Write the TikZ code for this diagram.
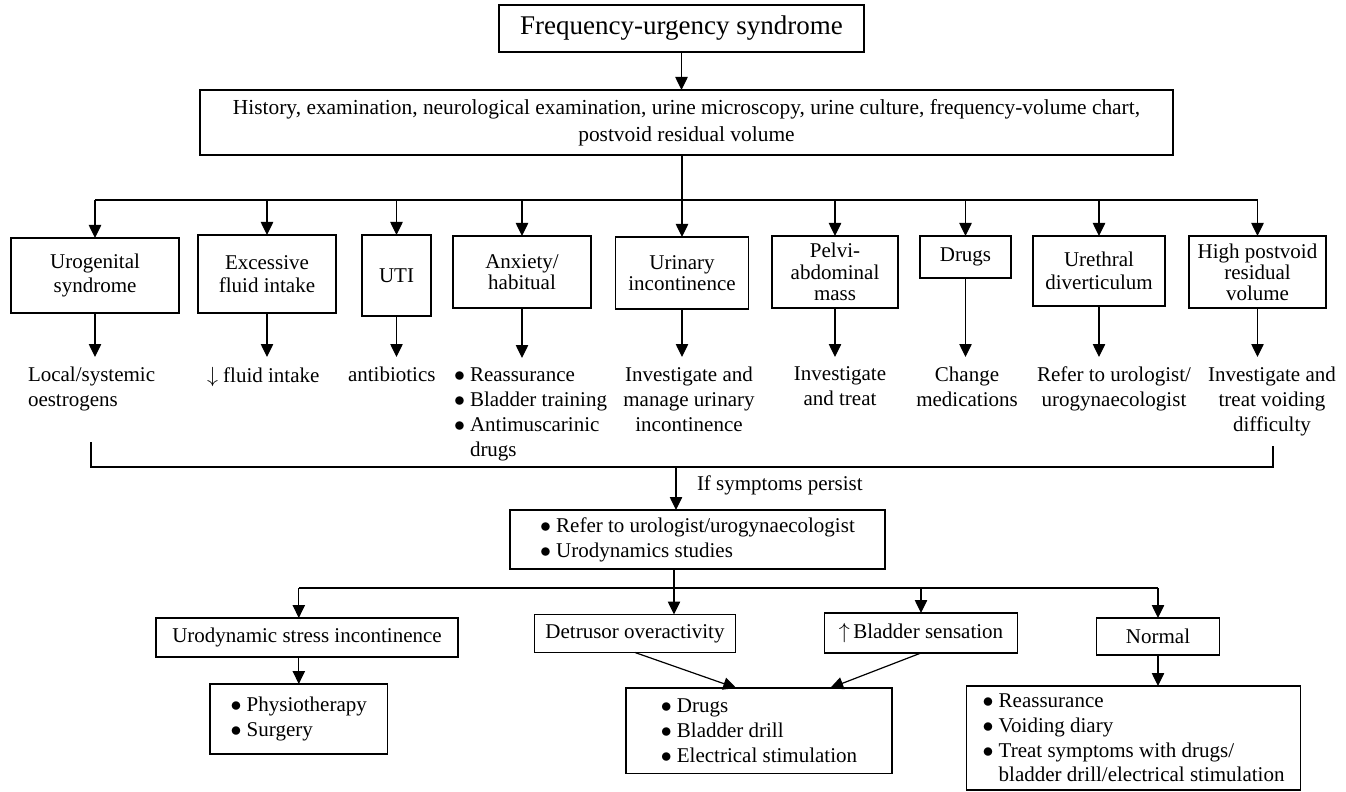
\documentclass[tikz,border=0pt]{standalone}
\usepackage{amsmath}
\usepackage{tikz}
\usepackage{fontspec}
\setmainfont{Liberation Serif}
\usetikzlibrary{arrows.meta}

\newcommand{\itm}{\makebox[8pt][l]{$\bullet$}}

\begin{document}
\begin{tikzpicture}[x=0.5pt,y=0.5pt,yscale=-1,xscale=1,
  every node/.style={inner sep=0pt,outer sep=0pt,font=\fontsize{10.5}{12.4}\selectfont},
  box/.style={draw,line width=0.6pt,align=center},
  tight/.style={font=\fontsize{10.5}{10.8}\selectfont},
  ln/.style={line width=0.6pt},
  arr/.style={line width=0.6pt,-{Triangle[length=6.5pt,width=6.2pt]}},
  down/.style={arr,shorten >=5pt}]
\useasboundingbox (0,0) rectangle (1346,792);

%Shape: Rectangle
\draw (681.5,28.5) node[box,minimum width=182.5pt,minimum height=23.5pt,font=\fontsize{13.5}{15}\selectfont] (title) {Frequency-urgency syndrome};
%Shape: Rectangle
\draw (686.5,122.5) node[box,minimum width=486.5pt,minimum height=32.5pt,font=\fontsize{10.7}{13.5}\selectfont] (exam) {History, examination, neurological examination, urine microscopy, urine culture, frequency-volume chart,\\postvoid residual volume};

%Shape: Rectangle -- causes
\draw (95,275.5) node[box,minimum width=84pt,minimum height=37.5pt] (uro) {Urogenital\\syndrome};
\draw (267,274) node[box,minimum width=69pt,minimum height=39pt,font=\fontsize{10.5}{11.6}\selectfont] (fluid) {Excessive\\fluid intake};
\draw (396.5,275.5) node[box,minimum width=34.5pt,minimum height=40.5pt] (uti) {UTI};
\draw (522,272) node[box,tight,minimum width=69pt,minimum height=36pt] (anx) {Anxiety/\\habitual};
\draw (682,273) node[box,tight,minimum width=66.5pt,minimum height=36pt] (uinc) {Urinary\\incontinence};
\draw (835,272) node[box,tight,minimum width=63pt,minimum height=36pt] (pelvi) {Pelvi-\\abdominal\\mass};
\draw (965.5,257) node[box,minimum width=45.5pt,minimum height=21pt] (drugs) {Drugs};
\draw (1099,271) node[box,minimum width=66pt,minimum height=35pt,font=\fontsize{10.5}{11.6}\selectfont] (ureth) {Urethral\\diverticulum};
\draw (1257.5,272) node[box,minimum width=68.5pt,minimum height=36pt,font=\fontsize{10.5}{10.5}\selectfont] (high) {High postvoid\\residual\\volume};

% Text Node -- first line management
\draw (28,367) node[anchor=north west,align=left] (uroT) {Local/systemic\\oestrogens};
\draw (207,367) node[anchor=north west] (fluidT) {$\downarrow$ fluid intake};
\draw (348,367) node[anchor=north west] (utiT) {antibiotics};
\draw (454,368) node[anchor=north west,align=left] (anxT) {\itm Reassurance\\\itm Bladder training\\\itm Antimuscarinic\\\hspace*{8pt}drugs};
\draw (689,367) node[anchor=north,align=center] (uincT) {Investigate and\\manage urinary\\incontinence};
\draw (840,367) node[anchor=north,align=center] (pelviT) {Investigate\\and treat};
\draw (967,367) node[anchor=north,align=center] (drugsT) {Change\\medications};
\draw (1114,367) node[anchor=north,align=center] (urethT) {Refer to urologist/\\urogynaecologist};
\draw (1272,367) node[anchor=north,align=center] (highT) {Investigate and\\treat voiding\\difficulty};

%Shape: Rectangle -- specialist
\draw (697.5,539.5) node[box,align=left,minimum width=187.5pt,minimum height=29.5pt] (refer) {\itm Refer to urologist/urogynaecologist\\\itm Urodynamics studies};
% Text Node
\draw (697,490) node[anchor=base west] (persist) {If symptoms persist};

%Shape: Rectangle -- urodynamic findings
\draw (307,637.5) node[box,minimum width=151pt,minimum height=19.5pt] (usi) {Urodynamic stress incontinence};
\draw (635,633.5) node[box,minimum width=100.8pt,minimum height=19pt] (det) {Detrusor overactivity};
\draw (921,633) node[box,minimum width=96.8pt,minimum height=20pt] (sens) {$\uparrow$\,Bladder sensation};
\draw (1158,636.5) node[box,minimum width=61.8pt,minimum height=18.5pt] (normal) {Normal};

%Shape: Rectangle -- treatment
\draw (298.8,719) node[box,align=left,minimum width=88.8pt,minimum height=35pt] (phys) {\itm Physiotherapy\\\itm Surgery};
\draw (759,730.8) node[box,align=left,minimum width=133pt,minimum height=42.8pt] (therapy) {\itm Drugs\\\itm Bladder drill\\\itm Electrical stimulation};
\draw (1133.6,738) node[box,align=left,minimum width=167pt,minimum height=52pt] (advice) {\itm Reassurance\\\itm Voiding diary\\\itm Treat symptoms with drugs/\\\hspace*{8pt}bladder drill/electrical stimulation};

%Straight Lines
\coordinate (br1) at (682,200);
\draw[arr] (title.south) -- (title.south |- exam.north);
\draw[ln] (exam.south -| br1) -- (br1);
\draw[ln] (uro |- br1) -- (high |- br1);
\foreach \b in {uro,fluid,uti,anx,uinc,pelvi,drugs,ureth,high}
  \draw[arr] (\b |- br1) -- (\b);
\foreach \b in {uro,fluid,uti,anx,uinc,pelvi,drugs,ureth,high}
  \draw[down] (\b) -- (\b |- \b T.north);

%Straight Lines
\coordinate (mgL) at (91,442);
\coordinate (mgR) at (1273,446);
\coordinate (mg) at (676,467);
\draw[ln] (mgL) |- (mg -| mgR) -- (mgR);
\draw[arr] (mg) -- (mg |- refer.north);

%Straight Lines
\coordinate (br2) at (674,588);
\draw[ln] (refer.south -| br2) -- (br2);
\draw[ln] (phys |- br2) -- (normal |- br2);
\draw[arr] (phys |- br2) -- (phys |- usi.north);
\draw[arr] (br2) -- (br2 |- det.north);
\draw[arr] (sens |- br2) -- (sens);
\draw[arr] (normal |- br2) -- (normal);
\draw[arr] (phys |- usi.south) -- (phys);
\draw[arr] (det.south) -- (therapy.118);
\draw[arr] (sens.south) -- (therapy.31);
\draw[arr] (normal) -- (normal |- advice.north);

\end{tikzpicture}
\end{document}
